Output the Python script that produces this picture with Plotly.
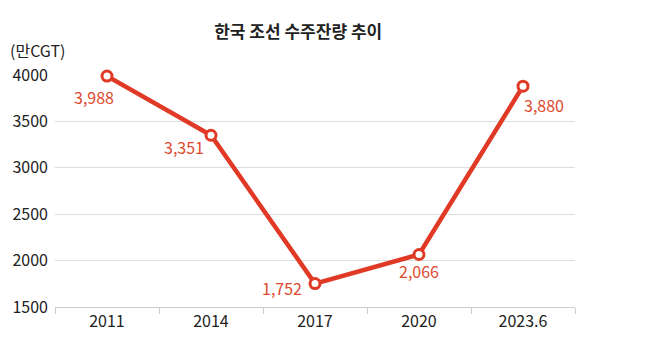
import plotly.graph_objects as go

categories = ["2011", "2014", "2017", "2020", "2023.6"]
values = [3988, 3351, 1752, 2066, 3880]
value_labels = ["3,988", "3,351", "1,752", "2,066", "3,880"]
label_dx = [-13, -27, -33, 0, 21]
label_dy = [-21, -12, -4, -17, -19]
y_ticks = [1500, 2000, 2500, 3000, 3500, 4000]

RED = "#E03A26"
FONT = "Noto Sans CJK KR"

fig = go.Figure()
fig.add_trace(go.Scatter(
    x=categories, y=values,
    mode="lines+markers",
    line=dict(color=RED, width=4.5),
    marker=dict(size=10, color="white", line=dict(color=RED, width=3)),
    cliponaxis=False,
    hoverinfo="skip",
))

annotations = [dict(text="(만CGT)", xref="paper", yref="paper", x=-0.09, y=1.0,
                    xanchor="left", yanchor="bottom", showarrow=False,
                    font=dict(size=16, color="#222", family=FONT), yshift=11)]
for i, (v, t, dx, dy) in enumerate(zip(values, value_labels, label_dx, label_dy)):
    annotations.append(dict(x=i, y=v, xref="x", yref="y", text=t, showarrow=False,
                            xshift=dx, yshift=dy,
                            font=dict(size=16, color="#E0482E", family=FONT)))

fig.update_layout(
    width=642, height=347,
    margin=dict(l=47, r=75, t=67, b=48, autoexpand=False),
    paper_bgcolor="white", plot_bgcolor="white",
    showlegend=False,
    font=dict(family=FONT, color="#222"),
    title=dict(text="<b>한국 조선 수주잔량 추이</b>", x=0.452, xanchor="center",
               yref="container", y=0.931, yanchor="middle",
               font=dict(size=17, color="#222", family=FONT)),
    annotations=annotations,
)
fig.update_xaxes(
    type="category", showgrid=False, showline=True, linecolor="#cccccc", linewidth=1,
    ticks="outside", tickson="boundaries", ticklen=6, tickcolor="#cccccc",
    tickfont=dict(size=16, color="#222", family=FONT), range=[-0.5, 4.5], automargin=False,
)
fig.update_yaxes(
    range=[1500, 4000], tickvals=y_ticks, showgrid=True, gridcolor="#dddddd",
    gridwidth=1, zeroline=False, showline=False, ticks="", ticklabelstandoff=6,
    tickfont=dict(size=16, color="#222", family=FONT), automargin=False,
)

fig.write_html("out.html")
